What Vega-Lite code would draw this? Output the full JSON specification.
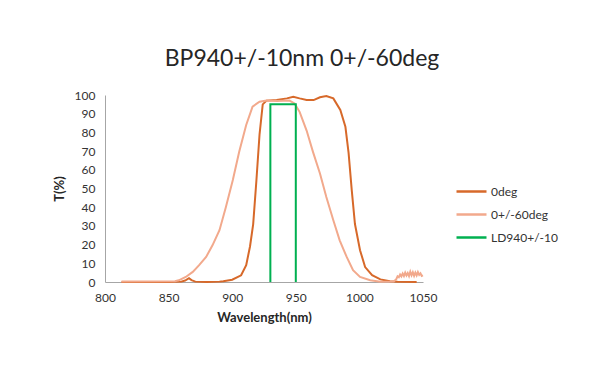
{
  "$schema": "https://vega.github.io/schema/vega-lite/v6.json",
  "autosize": {"type": "none"},
  "width": 318,
  "height": 187,
  "padding": {"left": 105, "top": 95, "right": 177, "bottom": 101},
  "background": "white",
  "config": {
    "view": {"stroke": null},
    "font": "Lato",
    "axis": {"grid": false, "ticks": false, "domainColor": "#a6a6a6", "labelColor": "#333333", "labelFontSize": 12, "titleColor": "#262626", "titleFontSize": 13, "titleFontWeight": "bold", "labelPadding": 10}
  },
  "title": {"text": "BP940+/-10nm 0+/-60deg", "fontSize": 23, "fontWeight": "normal", "color": "#262626", "offset": 18, "dx": 38, "anchor": "middle", "font": "Lato"},
  "datasets": {
    "curves": [
      {"series": "0deg", "nm": 813, "T": 0},
      {"series": "0deg", "nm": 850, "T": 0},
      {"series": "0deg", "nm": 860, "T": 0.2},
      {"series": "0deg", "nm": 863, "T": 0.8},
      {"series": "0deg", "nm": 866, "T": 2},
      {"series": "0deg", "nm": 868, "T": 1},
      {"series": "0deg", "nm": 871, "T": 0.2},
      {"series": "0deg", "nm": 880, "T": 0},
      {"series": "0deg", "nm": 890, "T": 0.2},
      {"series": "0deg", "nm": 893, "T": 0.4},
      {"series": "0deg", "nm": 900, "T": 1.2},
      {"series": "0deg", "nm": 907, "T": 3.6},
      {"series": "0deg", "nm": 911, "T": 9},
      {"series": "0deg", "nm": 914, "T": 19},
      {"series": "0deg", "nm": 916.5, "T": 31},
      {"series": "0deg", "nm": 919, "T": 54},
      {"series": "0deg", "nm": 921.5, "T": 79},
      {"series": "0deg", "nm": 924, "T": 95},
      {"series": "0deg", "nm": 927, "T": 97},
      {"series": "0deg", "nm": 935, "T": 97.3},
      {"series": "0deg", "nm": 943, "T": 98.2},
      {"series": "0deg", "nm": 948, "T": 99.1},
      {"series": "0deg", "nm": 953, "T": 98.2},
      {"series": "0deg", "nm": 958.5, "T": 97.3},
      {"series": "0deg", "nm": 964, "T": 97.3},
      {"series": "0deg", "nm": 969, "T": 98.8},
      {"series": "0deg", "nm": 974, "T": 99.5},
      {"series": "0deg", "nm": 979.5, "T": 98.2},
      {"series": "0deg", "nm": 985, "T": 92},
      {"series": "0deg", "nm": 989, "T": 83},
      {"series": "0deg", "nm": 991.5, "T": 69},
      {"series": "0deg", "nm": 994, "T": 49},
      {"series": "0deg", "nm": 996.5, "T": 31},
      {"series": "0deg", "nm": 1000.5, "T": 17},
      {"series": "0deg", "nm": 1004.5, "T": 8},
      {"series": "0deg", "nm": 1010, "T": 3.6},
      {"series": "0deg", "nm": 1016.5, "T": 1.4},
      {"series": "0deg", "nm": 1024, "T": 0.4},
      {"series": "0deg", "nm": 1030, "T": 0.2},
      {"series": "0deg", "nm": 1045, "T": 0},
      {"series": "0+/-60deg", "nm": 813, "T": 0.3},
      {"series": "0+/-60deg", "nm": 855, "T": 0.4},
      {"series": "0+/-60deg", "nm": 858, "T": 0.9},
      {"series": "0+/-60deg", "nm": 863.5, "T": 2.7},
      {"series": "0+/-60deg", "nm": 869, "T": 5.4},
      {"series": "0+/-60deg", "nm": 874, "T": 9},
      {"series": "0+/-60deg", "nm": 879.5, "T": 13.4},
      {"series": "0+/-60deg", "nm": 884.5, "T": 19.6},
      {"series": "0+/-60deg", "nm": 890, "T": 27.7},
      {"series": "0+/-60deg", "nm": 895, "T": 40},
      {"series": "0+/-60deg", "nm": 900.5, "T": 54.5},
      {"series": "0+/-60deg", "nm": 905.5, "T": 69.6},
      {"series": "0+/-60deg", "nm": 911, "T": 84},
      {"series": "0+/-60deg", "nm": 916, "T": 93.8},
      {"series": "0+/-60deg", "nm": 921.5, "T": 96.4},
      {"series": "0+/-60deg", "nm": 927, "T": 97},
      {"series": "0+/-60deg", "nm": 935, "T": 96.8},
      {"series": "0+/-60deg", "nm": 945, "T": 97},
      {"series": "0+/-60deg", "nm": 949, "T": 95.5},
      {"series": "0+/-60deg", "nm": 953, "T": 91},
      {"series": "0+/-60deg", "nm": 958.5, "T": 81},
      {"series": "0+/-60deg", "nm": 963.5, "T": 69.6},
      {"series": "0+/-60deg", "nm": 969, "T": 58},
      {"series": "0+/-60deg", "nm": 974, "T": 45.5},
      {"series": "0+/-60deg", "nm": 979.5, "T": 33},
      {"series": "0+/-60deg", "nm": 984.5, "T": 22.3},
      {"series": "0+/-60deg", "nm": 990, "T": 13.4},
      {"series": "0+/-60deg", "nm": 995, "T": 6.3},
      {"series": "0+/-60deg", "nm": 1000.5, "T": 2.7},
      {"series": "0+/-60deg", "nm": 1008.5, "T": 0.9},
      {"series": "0+/-60deg", "nm": 1016.5, "T": 0.2},
      {"series": "0+/-60deg", "nm": 1027, "T": 0.3},
      {"series": "0+/-60deg", "nm": 1029, "T": 1.5},
      {"series": "0+/-60deg", "nm": 1030, "T": 3},
      {"series": "0+/-60deg", "nm": 1031, "T": 2.5},
      {"series": "0+/-60deg", "nm": 1032, "T": 4},
      {"series": "0+/-60deg", "nm": 1033, "T": 3},
      {"series": "0+/-60deg", "nm": 1034, "T": 4.5},
      {"series": "0+/-60deg", "nm": 1035, "T": 3.2},
      {"series": "0+/-60deg", "nm": 1036, "T": 5},
      {"series": "0+/-60deg", "nm": 1037, "T": 3.5},
      {"series": "0+/-60deg", "nm": 1038, "T": 4.8},
      {"series": "0+/-60deg", "nm": 1039, "T": 3.2},
      {"series": "0+/-60deg", "nm": 1040, "T": 5.5},
      {"series": "0+/-60deg", "nm": 1041, "T": 3.6},
      {"series": "0+/-60deg", "nm": 1042, "T": 5.2},
      {"series": "0+/-60deg", "nm": 1043, "T": 3.3},
      {"series": "0+/-60deg", "nm": 1044, "T": 5},
      {"series": "0+/-60deg", "nm": 1045, "T": 3.5},
      {"series": "0+/-60deg", "nm": 1046, "T": 5.3},
      {"series": "0+/-60deg", "nm": 1047, "T": 3.8},
      {"series": "0+/-60deg", "nm": 1048, "T": 4.6},
      {"series": "0+/-60deg", "nm": 1049, "T": 3.2},
      {"series": "0+/-60deg", "nm": 1050, "T": 3.5}
    ],
    "ld": [
      {"series": "LD940+/-10", "k": 1, "nm": 930, "T": 0},
      {"series": "LD940+/-10", "k": 2, "nm": 930, "T": 95},
      {"series": "LD940+/-10", "k": 3, "nm": 950, "T": 95},
      {"series": "LD940+/-10", "k": 4, "nm": 950, "T": 0}
    ]
  },
  "encoding": {
    "x": {"field": "nm", "type": "quantitative", "title": "Wavelength(nm)", "scale": {"domain": [800, 1050], "nice": false}, "axis": {"values": [800, 850, 900, 950, 1000, 1050], "format": "d", "labelOverlap": false, "labelBound": false, "labelFlush": false, "titlePadding": 8}},
    "y": {"field": "T", "type": "quantitative", "title": "T(%)", "scale": {"domain": [0, 100], "nice": false}, "axis": {"values": [0, 10, 20, 30, 40, 50, 60, 70, 80, 90, 100], "format": "d", "labelOverlap": false, "titlePadding": 8}},
    "color": {"field": "series", "type": "nominal", "title": null,
      "scale": {"domain": ["0deg", "0+/-60deg", "LD940+/-10"], "range": ["#d7692a", "#f2a98c", "#00b050"]},
      "legend": {"orient": "none", "legendX": 350, "legendY": 80, "symbolType": "stroke", "symbolSize": 900, "symbolStrokeWidth": 2.5, "labelFontSize": 12, "labelColor": "#333333", "rowPadding": -6, "labelOffset": 3}}
  },
  "layer": [
    {"data": {"name": "curves"}, "mark": {"type": "line", "strokeWidth": 2, "clip": false}},
    {"data": {"name": "ld"}, "mark": {"type": "line", "strokeWidth": 2}, "encoding": {"order": {"field": "k", "type": "quantitative"}}}
  ]
}
